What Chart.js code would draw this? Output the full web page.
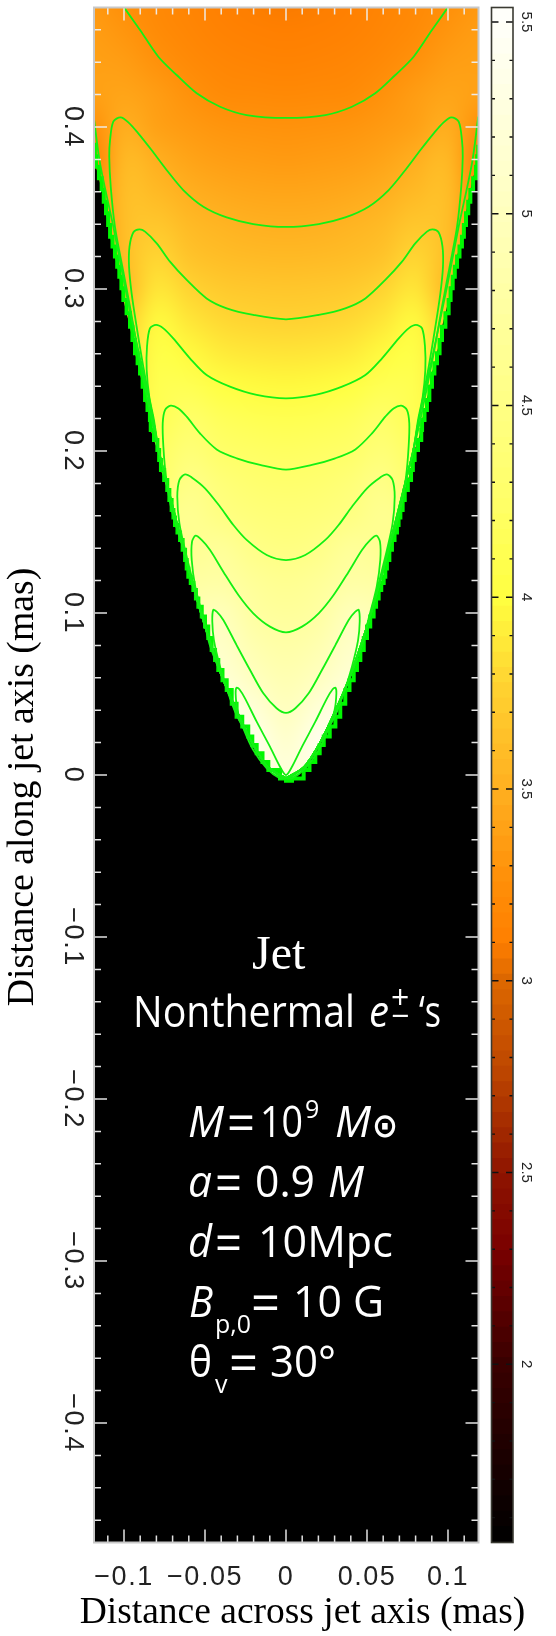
<!DOCTYPE html>
<html>
<head>
<meta charset="utf-8">
<title>Jet nonthermal map</title>
<script src="https://cdn.jsdelivr.net/npm/chart.js@4"></script>
<style>
  html, body { margin: 0; padding: 0; background: #fff; }
  #wrap { position: relative; width: 556px; height: 1636px; overflow: hidden; }
  canvas { position: absolute; top: 0; }
  #map-chart { left: 0; }
  #bar-chart { left: 470px; }
</style>
</head>
<body>
<div id="wrap">
  <canvas id="map-chart" width="556" height="1636"></canvas>
  <canvas id="bar-chart" width="86" height="1636"></canvas>
</div>
<script>
// tick values and labels
const xMajor = [-0.1, -0.05, 0, 0.05, 0.1];
const xMajorLabels = ['−0.1', '−0.05', '0', '0.05', '0.1'];
const xTicks = [-0.11, -0.1, -0.09, -0.08, -0.07, -0.06, -0.05, -0.04, -0.03, -0.02, -0.01, 0, 0.01, 0.02, 0.03, 0.04, 0.05, 0.06, 0.07, 0.08, 0.09, 0.1, 0.11];
const yMajor = [-0.4, -0.3, -0.2, -0.1, 0, 0.1, 0.2, 0.3, 0.4];
const yMajorLabels = ['−0.4', '−0.3', '−0.2', '−0.1', '0', '0.1', '0.2', '0.3', '0.4'];
const yTicks = [-0.46, -0.44, -0.42, -0.4, -0.38, -0.36, -0.34, -0.32, -0.3, -0.28, -0.26, -0.24, -0.22, -0.2, -0.18, -0.16, -0.14, -0.12, -0.1, -0.08, -0.06, -0.04, -0.02, 0, 0.02, 0.04, 0.06, 0.08, 0.1, 0.12, 0.14, 0.16, 0.18, 0.2, 0.22, 0.24, 0.26, 0.28, 0.3, 0.32, 0.34, 0.36, 0.38, 0.4, 0.42, 0.44, 0.46];
const barMajor = [2, 2.5, 3, 3.5, 4, 4.5, 5, 5.5];
const barTicks = [1.6, 1.7, 1.8, 1.9, 2, 2.1, 2.2, 2.3, 2.4, 2.5, 2.6, 2.7, 2.8, 2.9, 3, 3.1, 3.2, 3.3, 3.4, 3.5, 3.6, 3.7, 3.8, 3.9, 4, 4.1, 4.2, 4.3, 4.4, 4.5, 4.6, 4.7, 4.8, 4.9, 5, 5.1, 5.2, 5.3, 5.4, 5.5];

// colour table
const paletteValues = [1.54, 2.0, 2.3, 2.5, 2.75, 3.0, 3.1, 3.25, 3.5, 3.75, 4.0, 4.25, 4.5, 5.0, 5.5];
const paletteColors = [[0, 0, 0], [58, 0, 0], [122, 0, 0], [143, 21, 0], [187, 68, 0], [221, 104, 0], [255, 127, 0], [255, 142, 8], [255, 176, 32], [255, 208, 48], [255, 255, 64], [255, 255, 104], [255, 255, 132], [255, 255, 190], [255, 255, 250]];

// surface values, one row per heatY, columns at |x| = heatX (mirrored around 0)
const heatX = [0, 0.02, 0.04, 0.06, 0.08, 0.10, 0.12];
const heatY = [0, 0.02, 0.04, 0.06, 0.08, 0.10, 0.12, 0.14, 0.16, 0.18, 0.20, 0.22, 0.24, 0.26, 0.28, 0.30, 0.32, 0.34, 0.36, 0.38, 0.40, 0.42, 0.44, 0.46, 0.48];
const heatRows = [
  [5.25, 5.30, 5.30, 5.30, 5.30, 5.30, 5.30],
  [5.12, 5.40, 5.40, 5.40, 5.40, 5.40, 5.40],
  [4.99, 5.22, 5.40, 5.40, 5.40, 5.40, 5.40],
  [4.89, 5.01, 5.20, 5.20, 5.20, 5.20, 5.20],
  [4.79, 4.87, 5.08, 5.05, 5.05, 5.05, 5.05],
  [4.69, 4.75, 4.97, 4.90, 4.90, 4.90, 4.90],
  [4.60, 4.66, 4.78, 4.75, 4.75, 4.75, 4.75],
  [4.47, 4.53, 4.68, 4.60, 4.50, 4.50, 4.50],
  [4.38, 4.41, 4.48, 4.62, 4.50, 4.50, 4.50],
  [4.29, 4.31, 4.39, 4.53, 4.25, 4.25, 4.25],
  [4.20, 4.22, 4.25, 4.38, 4.20, 4.20, 4.20],
  [4.10, 4.12, 4.16, 4.25, 4.10, 4.00, 4.00],
  [3.97, 3.98, 4.02, 4.12, 4.10, 3.85, 3.85],
  [3.86, 3.87, 3.90, 3.98, 4.05, 3.80, 3.80],
  [3.76, 3.77, 3.80, 3.87, 3.98, 3.70, 3.70],
  [3.67, 3.68, 3.70, 3.77, 3.87, 3.55, 3.55],
  [3.57, 3.58, 3.60, 3.65, 3.78, 3.60, 3.30],
  [3.49, 3.50, 3.53, 3.58, 3.68, 3.62, 3.20],
  [3.42, 3.43, 3.45, 3.49, 3.58, 3.62, 3.20],
  [3.34, 3.35, 3.37, 3.41, 3.49, 3.58, 3.10],
  [3.28, 3.29, 3.30, 3.34, 3.39, 3.49, 3.25],
  [3.20, 3.21, 3.22, 3.28, 3.36, 3.42, 3.38],
  [3.14, 3.15, 3.17, 3.21, 3.28, 3.36, 3.38],
  [3.10, 3.11, 3.13, 3.17, 3.22, 3.30, 3.36],
  [3.08, 3.09, 3.11, 3.15, 3.20, 3.25, 3.32]
];

// jet edge, |x| against y
const edgeY = [-0.0035, -0.0021, 0.0031, 0.008, 0.0134, 0.0185, 0.0237, 0.03, 0.036, 0.044, 0.0525, 0.0585, 0.0648, 0.071, 0.0772, 0.0845, 0.0916, 0.0978, 0.1039, 0.109, 0.1142, 0.1185, 0.1224, 0.1275, 0.1327, 0.139, 0.1451, 0.1497, 0.1543, 0.159, 0.1636, 0.1697, 0.1759, 0.1821, 0.1883, 0.1945, 0.2006, 0.2068, 0.213, 0.2191, 0.2253, 0.2315, 0.2397, 0.2479, 0.2541, 0.2603, 0.2685, 0.2767, 0.285, 0.2932, 0.3004, 0.3076, 0.3138, 0.32, 0.3262, 0.3323, 0.3395, 0.3467, 0.3539, 0.3611, 0.3683, 0.3755, 0.382, 0.389];
const edgeX = [0, 0.0037, 0.0109, 0.0145, 0.0181, 0.0208, 0.0233, 0.027, 0.0305, 0.0335, 0.0366, 0.0392, 0.0418, 0.0438, 0.0459, 0.048, 0.05, 0.052, 0.0541, 0.0556, 0.0572, 0.0588, 0.0603, 0.0613, 0.0623, 0.0638, 0.0654, 0.067, 0.0685, 0.0695, 0.0706, 0.072, 0.0733, 0.0752, 0.0772, 0.0783, 0.0794, 0.0815, 0.0835, 0.084, 0.0855, 0.087, 0.0885, 0.0901, 0.0916, 0.0932, 0.0948, 0.0963, 0.0984, 0.1004, 0.1016, 0.1029, 0.1042, 0.1056, 0.1071, 0.1086, 0.1098, 0.1111, 0.1125, 0.1138, 0.1155, 0.1173, 0.118, 0.1187];

// contours, right half only: axis -> peak -> down along the edge
const level325X = [0, 0.0243, 0.0407, 0.0551, 0.0675, 0.0788, 0.0901, 0.1002, 0.104];
const level325Y = [0.4056, 0.4074, 0.4125, 0.4208, 0.4321, 0.4434, 0.4599, 0.4743, 0.481];
const level325EdgeX = [0.1187, 0.1148, 0.1066, 0.0994, 0.0912, 0.0819];
const level325EdgeY = [0.4064, 0.3776, 0.3385, 0.3014, 0.2623, 0.2191];
const level350X = [0, 0.0202, 0.0366, 0.051, 0.0634, 0.0737, 0.083, 0.0912, 0.0973, 0.1021, 0.1066, 0.1086, 0.1091, 0.1082, 0.1056, 0.1014, 0.0963, 0.0912, 0.0829];
const level350Y = [0.3383, 0.3401, 0.3442, 0.3508, 0.3611, 0.3735, 0.3858, 0.3961, 0.4029, 0.406, 0.4033, 0.392, 0.3817, 0.3632, 0.3385, 0.3158, 0.2891, 0.2603, 0.2191];
const level375X = [0, 0.0202, 0.0366, 0.049, 0.0613, 0.0716, 0.0798, 0.087, 0.0905, 0.0942, 0.0966, 0.0969, 0.0953, 0.0922, 0.0881, 0.0819];
const level375Y = [0.2813, 0.284, 0.2881, 0.2942, 0.3056, 0.3169, 0.3282, 0.3354, 0.3368, 0.335, 0.3261, 0.3138, 0.2973, 0.2767, 0.2521, 0.2191];
const level400X = [0, 0.0181, 0.0346, 0.049, 0.0593, 0.0696, 0.0757, 0.0802, 0.084, 0.0858, 0.086, 0.0844, 0.0815];
const level400Y = [0.2325, 0.2346, 0.2397, 0.2469, 0.2572, 0.2695, 0.2757, 0.2778, 0.2757, 0.2644, 0.25, 0.2335, 0.2191];
const level425X = [0, 0.016, 0.0304, 0.0428, 0.0531, 0.0613, 0.0664, 0.0712, 0.0747, 0.0761, 0.0757, 0.0741, 0.0706];
const level425Y = [0.1885, 0.1914, 0.1955, 0.201, 0.2109, 0.2212, 0.2263, 0.228, 0.2253, 0.2171, 0.2027, 0.1842, 0.1636];
const level450X = [0, 0.0119, 0.0243, 0.0325, 0.0407, 0.05, 0.0582, 0.0623, 0.0658, 0.0671, 0.0658, 0.0623, 0.0582];
const level450Y = [0.1327, 0.1358, 0.1451, 0.1543, 0.1656, 0.177, 0.1837, 0.1856, 0.1821, 0.1718, 0.1553, 0.1389, 0.1224];
const level475X = [0, 0.0099, 0.0202, 0.0294, 0.0387, 0.0469, 0.0521, 0.0558, 0.058, 0.0582, 0.056, 0.0508, 0.0467];
const level475Y = [0.0881, 0.0916, 0.0998, 0.1111, 0.1255, 0.1389, 0.1451, 0.1477, 0.144, 0.1327, 0.1163, 0.0957, 0.0792];
const level500X = [0, 0.0058, 0.014, 0.0222, 0.0305, 0.0387, 0.0428, 0.0449, 0.0455, 0.0445, 0.0407, 0.0356, 0.0305];
const level500Y = [0.0383, 0.0412, 0.0504, 0.0648, 0.0802, 0.0957, 0.1008, 0.1019, 0.0947, 0.0833, 0.0669, 0.0504, 0.037];
const level525X = [0, 0.0037, 0.0099, 0.0181, 0.0253, 0.0288, 0.0305, 0.0311, 0.03, 0.0263, 0.0202, 0.0119, 0.0037, 0];
const level525Y = [0, 0.0051, 0.0175, 0.0329, 0.0473, 0.0529, 0.0539, 0.0504, 0.0401, 0.0288, 0.0154, 0.0041, -0.0021, -0.0021];
// shared run just inside the edge, the contours all close along it
const hugX = [0.0785, 0.0735, 0.0685, 0.0635, 0.0582, 0.0525, 0.0462, 0.0392, 0.0306, 0.021, 0.0112, 0];
const hugY = [0.2, 0.18, 0.16, 0.14, 0.12, 0.1, 0.08, 0.06, 0.04, 0.02, 0.005, -0.002];

const greenLine = '#14f014';
const greenEdge = '#00f800';

// axis titles
const xTitle = 'Distance across jet axis (mas)';
const yTitle = 'Distance along jet axis (mas)';

// white annotation runs over the black part of the plot
const sansFont = '"Open Sans"';
const noteRuns = [
  ['Jet', 252, 969, '48px "Liberation Serif"', 54],
  ['Nonthermal', 133, 1027, '43px ' + sansFont, 222],
  ['e', 369, 1027, 'italic 43px ' + sansFont, 20],
  ['+', 391, 1009, '32px ' + sansFont, 20],
  ['−', 391, 1027, '32px ' + sansFont, 20],
  ['‘s', 419, 1027, '43px ' + sansFont, 22],
  ['M', 188, 1137, 'italic 43px ' + sansFont, 37],
  ['=', 227, 1142, '55px ' + sansFont, 28],
  ['10', 260, 1137, '43px ' + sansFont, 43],
  ['9', 305, 1118, '25px ' + sansFont, 18],
  ['M', 335, 1137, 'italic 43px ' + sansFont, 37],
  ['⊙', 372, 1137, 'bold 34px "DejaVu Sans"', 26],
  ['a', 188, 1197, 'italic 43px ' + sansFont, 24],
  ['=', 215, 1202, '55px ' + sansFont, 27],
  ['0.9', 255, 1197, '43px ' + sansFont, 60],
  ['M', 328, 1197, 'italic 43px ' + sansFont, 37],
  ['d', 188, 1257, 'italic 43px ' + sansFont, 24],
  ['=', 215, 1262, '55px ' + sansFont, 27],
  ['10Mpc', 258, 1257, '43px ' + sansFont, 139],
  ['B', 189, 1317, 'italic 43px ' + sansFont, 24],
  ['p,0', 215, 1333, '25px ' + sansFont, 36],
  ['=', 251, 1322, '55px ' + sansFont, 29],
  ['10 G', 293, 1317, '43px ' + sansFont, 91],
  ['θ', 189, 1377, '43px ' + sansFont, 23],
  ['v', 215, 1393, '25px ' + sansFont, 14],
  ['=', 229, 1382, '55px ' + sansFont, 29],
  ['30°', 270, 1377, '43px ' + sansFont, 66]
];

function paletteAt(v) {
  let i = 0;
  if (v <= paletteValues[0]) return paletteColors[0];
  while (i < paletteValues.length - 2 && v > paletteValues[i + 1]) i++;
  const t = Math.min(1, (v - paletteValues[i]) / (paletteValues[i + 1] - paletteValues[i]));
  return paletteColors[i].map((c, k) => Math.round(c + (paletteColors[i + 1][k] - c) * t));
}

// mirror a half contour and tack on the run along the edge
function fullContour(xs, ys, closeAlongEdge) {
  const half = xs.map((x, i) => ({ x: x, y: ys[i] }));
  if (closeAlongEdge) {
    const last = ys[ys.length - 1];
    hugY.forEach((y, i) => { if (y < last - 0.005) half.push({ x: hugX[i], y: y }); });
  }
  const left = half.slice(1).reverse().map(p => ({ x: -p.x, y: p.y }));
  return left.concat(half);
}

// outer strand of the lowest level: down the left edge, round the tip, up the right edge
function edgeStrand(xs, ys) {
  const half = xs.map((x, i) => ({ x: x, y: ys[i] }));
  const last = ys[ys.length - 1];
  hugY.forEach((y, i) => { if (y < last - 0.005) half.push({ x: hugX[i], y: y }); });
  return half.map(p => ({ x: -p.x, y: p.y })).concat(half.slice(0, -1).reverse());
}

function edgeSide(sign) {
  return edgeX.map((x, i) => ({ x: sign * x, y: edgeY[i] }));
}

function contourDataset(points, width, colour, stepped) {
  return {
    type: 'scatter',
    data: points,
    showLine: true,
    borderColor: colour,
    borderWidth: width,
    pointRadius: 0,
    tension: stepped ? 0 : 0.3,
    stepped: stepped ? true : false
  };
}

// heat surface painted into a small bitmap, then stretched over the grid cells
const heatPlugin = {
  id: 'heat',
  beforeDatasetsDraw(chart) {
    const { ctx, chartArea, scales } = chart;
    ctx.save();
    ctx.fillStyle = '#000';
    ctx.fillRect(chartArea.left, chartArea.top, chartArea.width, chartArea.height);

    const cols = heatX.slice(1).reverse().map(x => -x).concat(heatX);
    const bitmap = document.createElement('canvas');
    bitmap.width = cols.length;
    bitmap.height = heatY.length;
    const bctx = bitmap.getContext('2d');
    const img = bctx.createImageData(cols.length, heatY.length);
    heatY.forEach((y, r) => {
      cols.forEach((x, c) => {
        const col = paletteAt(heatRows[r][heatX.indexOf(Math.abs(x))]);
        const at = ((heatY.length - 1 - r) * cols.length + c) * 4;
        img.data[at] = col[0];
        img.data[at + 1] = col[1];
        img.data[at + 2] = col[2];
        img.data[at + 3] = 255;
      });
    });
    bctx.putImageData(img, 0, 0);

    // clip to the jet: edge on both sides, then straight up to the top of the plot
    const right = edgeSide(1);
    const left = edgeSide(-1).reverse();
    ctx.beginPath();
    ctx.moveTo(chartArea.left, chartArea.top);
    left.forEach(p => ctx.lineTo(scales.x.getPixelForValue(p.x), scales.y.getPixelForValue(p.y)));
    right.forEach(p => ctx.lineTo(scales.x.getPixelForValue(p.x), scales.y.getPixelForValue(p.y)));
    ctx.lineTo(chartArea.right, chartArea.top);
    ctx.closePath();
    ctx.clip();

    const cellW = scales.x.getPixelForValue(0.02) - scales.x.getPixelForValue(0);
    const cellH = scales.y.getPixelForValue(0) - scales.y.getPixelForValue(0.02);
    ctx.imageSmoothingEnabled = true;
    ctx.imageSmoothingQuality = 'high';
    ctx.drawImage(bitmap,
      scales.x.getPixelForValue(-0.12) - cellW / 2,
      scales.y.getPixelForValue(0.48) - cellH / 2,
      cellW * cols.length,
      cellH * heatY.length);
    ctx.restore();
  },
  afterDatasetsDraw(chart) {
    const { ctx, chartArea, scales } = chart;
    ctx.save();
    // ticks on all four sides, pointing in
    ctx.strokeStyle = 'rgba(238,238,238,0.95)';
    ctx.lineWidth = 1.5;
    scales.x.ticks.forEach(t => {
      const px = scales.x.getPixelForValue(t.value);
      const len = xMajor.some(m => Math.abs(m - t.value) < 1e-6) ? 13 : 7;
      ctx.beginPath();
      ctx.moveTo(px, chartArea.top);
      ctx.lineTo(px, chartArea.top + len);
      ctx.moveTo(px, chartArea.bottom);
      ctx.lineTo(px, chartArea.bottom - len);
      ctx.stroke();
    });
    scales.y.ticks.forEach(t => {
      const py = scales.y.getPixelForValue(t.value);
      const len = yMajor.some(m => Math.abs(m - t.value) < 1e-6) ? 13 : 7;
      ctx.beginPath();
      ctx.moveTo(chartArea.left, py);
      ctx.lineTo(chartArea.left + len, py);
      ctx.moveTo(chartArea.right, py);
      ctx.lineTo(chartArea.right - len, py);
      ctx.stroke();
    });
    ctx.strokeStyle = '#c8c8c8';
    ctx.lineWidth = 2;
    ctx.strokeRect(chartArea.left, chartArea.top, chartArea.width, chartArea.height);

    ctx.letterSpacing = '0px';
    ctx.fillStyle = '#fff';
    ctx.textAlign = 'left';
    ctx.textBaseline = 'alphabetic';
    noteRuns.forEach(run => {
      ctx.font = run[3];
      ctx.fillText(run[0], run[1], run[2], run[4]);
    });

    // axis titles sit off-centre in the original, so they are placed here
    ctx.fillStyle = '#000';
    ctx.textAlign = 'center';
    ctx.font = '37.5px "Liberation Serif"';
    ctx.fillText(xTitle, 302.5, 1623);
    ctx.translate(33, 787);
    ctx.rotate(-Math.PI / 2);
    ctx.font = '37.8px "Liberation Serif"';
    ctx.fillText(yTitle, 0, 0);
    ctx.restore();
  }
};

const spacedTicksPlugin = {
  id: 'spacedTicks',
  beforeDraw(chart) { chart.ctx.letterSpacing = '1.5px'; }
};

const mapChart = new Chart(document.getElementById('map-chart'), {
  type: 'scatter',
  data: {
    datasets: [
      contourDataset(fullContour(level325X, level325Y, false), 1.8, greenLine),
      contourDataset(edgeStrand(level325EdgeX, level325EdgeY), 1.8, greenLine),
      contourDataset(fullContour(level350X, level350Y, true), 1.8, greenLine),
      contourDataset(fullContour(level375X, level375Y, true), 1.8, greenLine),
      contourDataset(fullContour(level400X, level400Y, true), 1.8, greenLine),
      contourDataset(fullContour(level425X, level425Y, true), 1.8, greenLine),
      contourDataset(fullContour(level450X, level450Y, true), 1.8, greenLine),
      contourDataset(fullContour(level475X, level475Y, true), 1.8, greenLine),
      contourDataset(fullContour(level500X, level500Y, true), 1.8, greenLine),
      contourDataset(fullContour(level525X, level525Y, false), 1.8, greenLine),
      contourDataset(edgeSide(-1).reverse().concat(edgeSide(1)), 4, greenEdge, true)
    ]
  },
  options: {
    responsive: false,
    animation: false,
    layout: { padding: { top: 7.5, right: 77.5, left: 0, bottom: 0 } },
    plugins: { legend: { display: false }, tooltip: { enabled: false } },
    scales: {
      x: {
        type: 'linear',
        min: -0.11852,
        max: 0.11883,
        grid: { display: false },
        border: { display: false },
        afterBuildTicks: axis => { axis.ticks = xTicks.map(v => ({ value: v })); },
        afterFit: axis => { axis.height = 93.5; },
        ticks: {
          autoSkip: false,
          maxRotation: 0,
          padding: 11,
          color: '#222',
          font: { family: '"Liberation Sans"', size: 27 },
          callback: v => {
            const i = xMajor.findIndex(m => Math.abs(m - v) < 1e-6);
            return i < 0 ? '' : xMajorLabels[i];
          }
        }
      },
      y: {
        type: 'linear',
        min: -0.47377,
        max: 0.47377,
        grid: { display: false },
        border: { display: false },
        afterBuildTicks: axis => { axis.ticks = yTicks.map(v => ({ value: v })); },
        afterFit: axis => { axis.width = 94; },
        ticks: {
          autoSkip: false,
          minRotation: -90,
          crossAlign: 'center',
          padding: -13,
          color: '#222',
          font: { family: '"Liberation Sans"', size: 27 },
          callback: v => {
            const i = yMajor.findIndex(m => Math.abs(m - v) < 1e-6);
            return i < 0 ? '' : yMajorLabels[i];
          }
        }
      }
    }
  },
  plugins: [spacedTicksPlugin, heatPlugin]
});

// colour bar: one floating bar per colour band
const bandLow = 1.5352;
const bandStep = 0.04;
const bandDatasets = [];
for (let i = 0; i < 101; i++) {
  const lo = bandLow + i * bandStep;
  const col = paletteAt(lo + bandStep / 2);
  bandDatasets.push({
    data: [[lo, lo + bandStep + 0.002]],
    backgroundColor: 'rgb(' + col.join(',') + ')',
    borderWidth: 0,
    barPercentage: 1,
    categoryPercentage: 1,
    grouped: false
  });
}

const barFramePlugin = {
  id: 'barFrame',
  afterDatasetsDraw(chart) {
    const { ctx, chartArea, scales } = chart;
    ctx.save();
    ctx.strokeStyle = '#111';
    ctx.lineWidth = 1.4;
    scales.y.ticks.forEach(t => {
      const py = scales.y.getPixelForValue(t.value);
      const len = barMajor.some(m => Math.abs(m - t.value) < 1e-6) ? 7 : 3.5;
      ctx.beginPath();
      ctx.moveTo(chartArea.left, py);
      ctx.lineTo(chartArea.left + len, py);
      ctx.moveTo(chartArea.right, py);
      ctx.lineTo(chartArea.right - len, py);
      ctx.stroke();
    });
    ctx.strokeStyle = '#3a3a32';
    ctx.lineWidth = 1.6;
    ctx.strokeRect(chartArea.left, chartArea.top, chartArea.width, chartArea.height);
    ctx.restore();
  }
};

const barChart = new Chart(document.getElementById('bar-chart'), {
  type: 'bar',
  data: { labels: ['log'], datasets: bandDatasets },
  options: {
    responsive: false,
    animation: false,
    layout: { padding: { top: 7.5, right: 0, left: 21.5, bottom: 93.5 } },
    plugins: { legend: { display: false }, tooltip: { enabled: false } },
    scales: {
      x: { display: false },
      y: {
        type: 'linear',
        position: 'right',
        min: 1.5352,
        max: 5.5378,
        grid: { display: false },
        border: { display: false },
        afterBuildTicks: axis => { axis.ticks = barTicks.map(v => ({ value: v })); },
        afterFit: axis => { axis.width = 43; },
        ticks: {
          autoSkip: false,
          minRotation: -90,
          crossAlign: 'center',
          padding: -5,
          color: '#222',
          font: { family: '"Liberation Sans"', size: 15 },
          callback: v => (barMajor.some(m => Math.abs(m - v) < 1e-6) ? String(v) : '')
        }
      }
    }
  },
  plugins: [barFramePlugin]
});
</script>
</body>
</html>
